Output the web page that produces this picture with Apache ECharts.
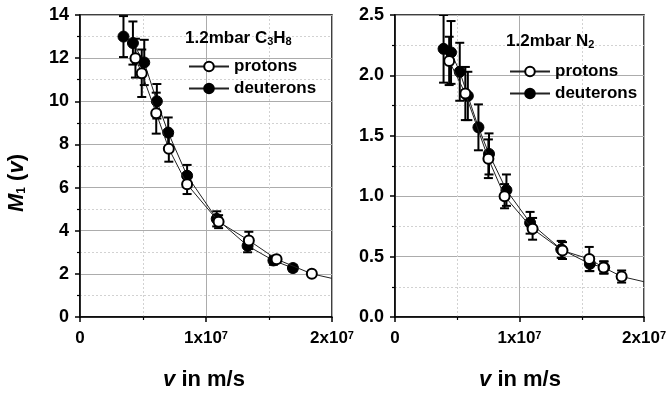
<!DOCTYPE html>
<html><head><meta charset="utf-8">
<script src="https://cdn.jsdelivr.net/npm/echarts@6/dist/echarts.min.js"></script>
<style>html,body{margin:0;padding:0;background:#fff}#c{width:669px;height:394px}</style>
</head><body><div id="c"></div>
<script>
// ---- data ----
// Left panel: 1.2 mbar C3H8
const c3h8ProtonV   = [4.4e6, 4.9e6, 6.05e6, 7.05e6, 8.5e6, 1.1e7, 1.34e7, 1.56e7, 1.84e7];
const c3h8ProtonM   = [12.0, 11.3, 9.45, 7.8, 6.15, 4.42, 3.55, 2.68, 2.0];
const c3h8ProtonErr = [0.9, 1.1, 0.95, 0.6, 0.45, 0.3, 0.4, 0.15, 0.1];
const c3h8DeutV     = [3.45e6, 4.2e6, 5.1e6, 6.1e6, 7.0e6, 8.5e6, 1.085e7, 1.33e7, 1.535e7, 1.69e7];
const c3h8DeutM     = [13.0, 12.7, 11.8, 10.0, 8.55, 6.55, 4.55, 3.3, 2.62, 2.27];
const c3h8DeutErr   = [0.95, 1.0, 1.05, 0.8, 0.7, 0.5, 0.35, 0.3, 0.2, 0.15];
const c3h8TailV     = [1.84e7, 2.0e7];
const c3h8TailM     = [2.0, 1.79];
// Right panel: 1.2 mbar N2
const n2ProtonV   = [4.35e6, 5.65e6, 7.5e6, 8.8e6, 1.105e7, 1.345e7, 1.56e7, 1.675e7, 1.82e7];
const n2ProtonM   = [2.12, 1.85, 1.31, 1.0, 0.73, 0.55, 0.48, 0.41, 0.335];
const n2ProtonErr = [0.2, 0.22, 0.16, 0.1, 0.09, 0.07, 0.1, 0.05, 0.05];
const n2DeutV     = [3.9e6, 4.5e6, 5.2e6, 5.85e6, 6.7e6, 7.55e6, 8.95e6, 1.085e7, 1.335e7, 1.565e7, 1.68e7];
const n2DeutM     = [2.22, 2.19, 2.03, 1.83, 1.57, 1.35, 1.05, 0.78, 0.56, 0.44, 0.41];
const n2DeutErr   = [0.28, 0.26, 0.24, 0.2, 0.19, 0.17, 0.13, 0.09, 0.07, 0.06, 0.05];
const n2TailV     = [1.82e7, 2.0e7];
const n2TailM     = [0.335, 0.292];
// tick labels
const xTickValues = [0, 1e7, 2e7];
const xTickMant   = ['0', '1x10', '2x10'];
const xTickExp    = ['', '7', '7'];
const leftYTicks  = [0, 2, 4, 6, 8, 10, 12, 14];
const rightYTicks = ['0.0', '0.5', '1.0', '1.5', '2.0', '2.5'];
const legendNames = ['protons', 'deuterons'];

const FONT = "'Liberation Sans', Arial, sans-serif";
const zip = (a, b) => a.map((v, i) => [v, b[i]]);
const errData = (x, y, e) => x.map((v, i) => [v, y[i] - e[i], y[i] + e[i]]);

function errRender(params, api) {
  const x = api.value(0), lo = api.value(1), hi = api.value(2);
  const p1 = api.coord([x, hi]), p2 = api.coord([x, lo]);
  const w = 4.5, st = {stroke: '#000', lineWidth: 2};
  return {type: 'group', children: [
    {type: 'line', shape: {x1: p1[0], y1: p1[1], x2: p2[0], y2: p2[1]}, style: st},
    {type: 'line', shape: {x1: p1[0] - w, y1: p1[1], x2: p1[0] + w, y2: p1[1]}, style: st},
    {type: 'line', shape: {x1: p2[0] - w, y1: p2[1], x2: p2[0] + w, y2: p2[1]}, style: st}
  ]};
}

function xAxisFor(gi) {
  return {
    gridIndex: gi, type: 'value', min: 0, max: 2e7, interval: 1e7,
    axisLine: {lineStyle: {color: '#000', width: 1.5}},
    axisTick: {show: true, length: 5, lineStyle: {color: '#000', width: 1.5}},
    minorTick: {show: true, splitNumber: 2, length: 3, lineStyle: {color: '#000', width: 1.2}},
    splitLine: {show: true, lineStyle: {color: '#acacac', width: 1}},
    minorSplitLine: {show: true, lineStyle: {color: '#d2d2d2', width: 1, type: [2, 2]}},
    axisLabel: {
      margin: 13, color: '#000', fontSize: 17, fontWeight: 'bold', fontFamily: FONT,
      formatter: v => {
        const i = xTickValues.indexOf(v);
        if (i < 0) return '';
        return xTickExp[i] ? xTickMant[i] + '{sup|' + xTickExp[i] + '}' : xTickMant[i];
      },
      rich: {sup: {fontSize: 11, fontWeight: 'bold', fontFamily: FONT, verticalAlign: 'top', color: '#000', padding: [0, 0, 4, 0]}}
    }
  };
}
function yAxisFor(gi, max, interval, labels) {
  return {
    gridIndex: gi, type: 'value', min: 0, max: max, interval: interval,
    axisLine: {show: true, lineStyle: {color: '#000', width: 1.5}},
    axisTick: {show: true, length: 5, lineStyle: {color: '#000', width: 1.5}},
    minorTick: {show: true, splitNumber: 2, length: 3, lineStyle: {color: '#000', width: 1.2}},
    splitLine: {show: true, lineStyle: {color: '#acacac', width: 1}},
    minorSplitLine: {show: true, lineStyle: {color: '#d2d2d2', width: 1, type: [2, 2]}},
    axisLabel: {
      margin: 11, color: '#000', fontSize: 18, fontWeight: 'bold', fontFamily: FONT,
      formatter: v => { const i = Math.round(v / interval); return labels[i] !== undefined ? String(labels[i]) : ''; }
    }
  };
}

const protonStyle = {
  type: 'line', symbol: 'circle', symbolSize: 10, z: 4,
  lineStyle: {color: '#222', width: 1},
  itemStyle: {color: '#fff', borderColor: '#000', borderWidth: 2}
};
const deutStyle = {
  type: 'line', symbol: 'circle', symbolSize: 11, z: 3,
  lineStyle: {color: '#222', width: 1},
  itemStyle: {color: '#000', borderColor: '#000', borderWidth: 1}
};

function panelSeries(gi, pv, pm, pe, dv, dm, de, tv, tm) {
  return [
    {type: 'custom', name: 'errD' + gi, xAxisIndex: gi, yAxisIndex: gi, renderItem: errRender,
     data: errData(dv, dm, de), z: 2, clip: true, encode: {x: 0, y: [1, 2]}},
    {type: 'custom', name: 'errP' + gi, xAxisIndex: gi, yAxisIndex: gi, renderItem: errRender,
     data: errData(pv, pm, pe), z: 2, clip: true, encode: {x: 0, y: [1, 2]}},
    {type: 'line', name: 'tail' + gi, xAxisIndex: gi, yAxisIndex: gi, data: zip(tv, tm),
     showSymbol: false, symbol: 'none', lineStyle: {color: '#222', width: 1}, z: 2},
    Object.assign({}, deutStyle, {name: 'deuterons', xAxisIndex: gi, yAxisIndex: gi, data: zip(dv, dm)}),
    Object.assign({}, protonStyle, {name: 'protons', xAxisIndex: gi, yAxisIndex: gi, data: zip(pv, pm)})
  ];
}

function legendFor(left, top) {
  return {
    data: legendNames, orient: 'vertical', left: left, top: top,
    itemWidth: 40, itemHeight: 12, itemGap: 5, selectedMode: false,
    textStyle: {fontSize: 17, fontWeight: 'bold', fontFamily: FONT, color: '#000'}
  };
}

const richCommon = {
  n: {fontSize: 17, fontWeight: 'bold', fontFamily: FONT, fill: '#000'},
  sub: {fontSize: 11, fontWeight: 'bold', fontFamily: FONT, fill: '#000', verticalAlign: 'bottom', padding: [5, 0, 0, 0]}
};

const option = {
  animation: false,
  backgroundColor: '#fff',
  grid: [
    {left: 80, top: 15, width: 252, height: 302, show: true, borderColor: '#000', borderWidth: 1.5, backgroundColor: 'transparent'},
    {left: 395, top: 15, width: 252, height: 302, show: true, borderColor: '#000', borderWidth: 1.5, backgroundColor: 'transparent'}
  ],
  xAxis: [xAxisFor(0), xAxisFor(1)],
  yAxis: [yAxisFor(0, 14, 2, leftYTicks), yAxisFor(1, 2.5, 0.5, rightYTicks)],
  legend: [legendFor(183, 53), legendFor(504, 58)],
  series: [].concat(
    panelSeries(0, c3h8ProtonV, c3h8ProtonM, c3h8ProtonErr, c3h8DeutV, c3h8DeutM, c3h8DeutErr, c3h8TailV, c3h8TailM),
    panelSeries(1, n2ProtonV, n2ProtonM, n2ProtonErr, n2DeutV, n2DeutM, n2DeutErr, n2TailV, n2TailM)
  ),
  graphic: [
    {type: 'text', left: 185, top: 30, z: 10, style: {text: '{n|1.2mbar C}{sub|3}{n|H}{sub|8}', rich: richCommon}},
    {type: 'text', left: 506, top: 33, z: 10, style: {text: '{n|1.2mbar N}{sub|2}', rich: richCommon}},
    {type: 'text', x: 17, y: 183, rotation: Math.PI / 2, z: 10,
     style: {text: '{i|M}{s|1}{b| (}{i|v}{b|)}', align: 'center', verticalAlign: 'middle',
       rich: {
         i: {fontSize: 22, fontWeight: 'bold', fontStyle: 'italic', fontFamily: FONT, fill: '#000'},
         b: {fontSize: 22, fontWeight: 'bold', fontFamily: FONT, fill: '#000'},
         s: {fontSize: 12, fontWeight: 'bold', fontFamily: FONT, fill: '#000', verticalAlign: 'bottom'}
       }}},
    {type: 'text', x: 204, y: 380, z: 10,
     style: {text: '{i|v}{b| in m/s}', align: 'center', verticalAlign: 'middle',
       rich: {
         i: {fontSize: 22, fontWeight: 'bold', fontStyle: 'italic', fontFamily: FONT, fill: '#000'},
         b: {fontSize: 22, fontWeight: 'bold', fontFamily: FONT, fill: '#000'}
       }}},
    {type: 'text', x: 520, y: 380, z: 10,
     style: {text: '{i|v}{b| in m/s}', align: 'center', verticalAlign: 'middle',
       rich: {
         i: {fontSize: 22, fontWeight: 'bold', fontStyle: 'italic', fontFamily: FONT, fill: '#000'},
         b: {fontSize: 22, fontWeight: 'bold', fontFamily: FONT, fill: '#000'}
       }}}
  ]
};

const chart = echarts.init(document.getElementById('c'), null, {renderer: 'canvas'});
chart.setOption(option);
</script>
</body></html>
